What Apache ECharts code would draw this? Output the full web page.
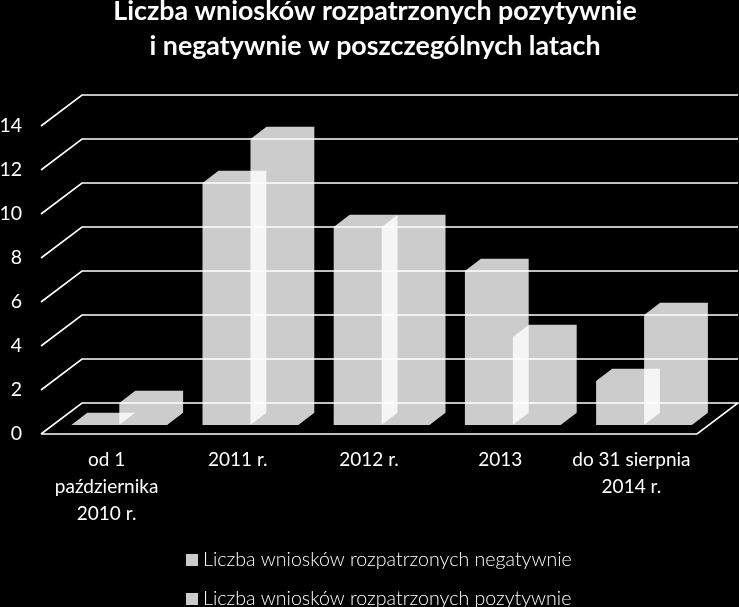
<!DOCTYPE html>
<html><head><meta charset="utf-8">
<style>html,body{margin:0;padding:0;background:#000;overflow:hidden}#c{width:739px;height:607px}</style>
<script src="https://cdn.jsdelivr.net/npm/echarts@6/dist/echarts.min.js"></script></head>
<body><div id="c"></div>
<script>
const categories = ['od 1\npaździernika\n2010 r.', '2011 r.', '2012 r.', '2013', 'do 31 sierpnia\n2014 r.'];
const negatywne = [0, 11, 9, 7, 2];
const pozytywne = [1, 13, 9, 4, 5];
const yTicks = [0, 2, 4, 6, 8, 10, 12, 14];
const nameNeg = 'Liczba wniosków rozpatrzonych negatywnie';
const namePoz = 'Liczba wniosków rozpatrzonych pozytywnie';
const FONT = 'Lato';

function wallRender(params, api) {
  const cs = params.coordSys;
  const y = api.coord([0, api.value(0)])[1];
  const x0 = cs.x, x1 = cs.x + cs.width, dx = 41, dy = 31;
  const pts = api.value(0) === 0
    ? [[x0, y], [x1, y], [x1 + dx, y - dy], [x0 + dx, y - dy], [x0, y]]
    : [[x0, y], [x0 + dx, y - dy], [x1 + dx, y - dy]];
  return { type: 'polyline', shape: { points: pts }, silent: true,
    style: { stroke: '#fff', lineWidth: 1.6, fill: null } };
}
function barRender(offset) {
  return function (params, api) {
    const c = api.coord([api.value(0), api.value(1)]);
    const base = api.coord([api.value(0), 0])[1] - 9;
    const top = c[1] - 9;
    const x = c[0] + offset, w = 47.8, dx = 16, dy = 12.3;
    return { type: 'polygon', shape: { points: [
      [x, base], [x + w, base], [x + w + dx, base - dy],
      [x + w + dx, top - dy], [x + dx, top - dy], [x, top]
    ] }, style: { fill: 'rgba(255,255,255,0.8)', stroke: null } };
  };
}
const legendBase = { orient: 'vertical', left: 181, itemWidth: 12, itemHeight: 12,
  icon: 'rect', selectedMode: false,
  textStyle: { color: '#fff', fontFamily: FONT, fontWeight: 300, fontSize: 19.6 } };
const chart = echarts.init(document.getElementById('c'));
chart.setOption({
  backgroundColor: '#000',
  animation: false,
  title: { text: 'Liczba wniosków rozpatrzonych pozytywnie\ni negatywnie w poszczególnych latach',
    left: 370, top: -11.5, textAlign: 'center',
    textStyle: { color: '#fff', fontFamily: FONT, fontWeight: 'bold', fontSize: 26.8, lineHeight: 35 } },
  legend: [
    Object.assign({}, legendBase, { top: 545, data: [nameNeg] }),
    Object.assign({}, legendBase, { top: 584, data: [namePoz] })
  ],
  grid: { left: 41, width: 656, top: 126, height: 308, outerBoundsMode: 'none' },
  xAxis: { type: 'category', data: categories, axisLine: { show: false }, axisTick: { show: false },
    splitLine: { show: false },
    axisLabel: { color: '#fff', fontFamily: FONT, fontSize: 19, lineHeight: 27, margin: 12, interval: 0 } },
  yAxis: { type: 'value', min: 0, max: 14, interval: 2, axisLine: { show: false }, axisTick: { show: false },
    splitLine: { show: false },
    axisLabel: { color: '#fff', fontFamily: FONT, fontSize: 19.5, margin: 19 } },
  series: [
    { type: 'custom', name: 'wall', z: 1, silent: true, clip: false, renderItem: wallRender,
      encode: { y: 0 }, data: yTicks.map(v => [v]) },
    { type: 'custom', name: nameNeg, z: 2, clip: false, renderItem: barRender(-35.3), itemStyle: { color: '#ccc' },
      encode: { x: 0, y: 1 }, data: negatywne.map((v, i) => [i, v]) },
    { type: 'custom', name: namePoz, z: 2, clip: false, renderItem: barRender(12.7), itemStyle: { color: '#ccc' },
      encode: { x: 0, y: 1 }, data: pozytywne.map((v, i) => [i, v]) }
  ]
});
</script></body></html>
